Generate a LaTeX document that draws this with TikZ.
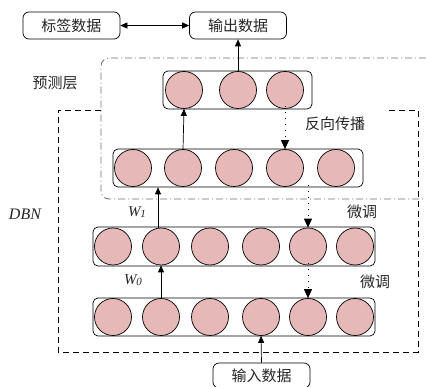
\documentclass[tikz,border=0pt]{standalone}
\usepackage{fontspec}
\setmainfont{Liberation Serif}
\newfontfamily\cjk{Noto Sans CJK SC}
\usetikzlibrary{arrows.meta}
\definecolor{neuron}{HTML}{E6B8B7}
\definecolor{dashgray}{HTML}{6E6E6E}
\begin{document}
\begin{tikzpicture}[x=1pt,y=-1pt,
 circ/.style={circle,draw=black,line width=0.7pt,fill=neuron,minimum size=37pt,inner sep=0pt},
 rowbox/.style={draw=black,line width=0.7pt,rounded corners=5pt,inner sep=0pt},
 databox/.style={draw=black,line width=0.7pt,rounded corners=6pt,minimum width=97pt,minimum height=27pt,inner sep=0pt,font=\cjk\fontsize{15}{15}\selectfont,text=black!85},
 lbl/.style={font=\cjk\fontsize{15}{15}\selectfont,text=black!85,inner sep=0pt},
 wlbl/.style={font=\itshape\fontsize{15}{15}\selectfont,text=black!85,inner sep=0pt},
 up/.style={-{Triangle[length=7pt,width=6pt]},line width=0.7pt},
 bp/.style={-{Triangle[length=9pt,width=8pt]},line width=0.8pt,dash pattern=on 1pt off 5pt},
 dashdotline/.style={draw=dashgray,line width=0.8pt,dash pattern=on 7pt off 3pt on 1pt off 3pt},
 dashline/.style={draw=black,line width=0.8pt,dash pattern=on 6pt off 4pt},
]
\useasboundingbox (0,0) rectangle (426,387);

% frames
\draw[dashdotline,rounded corners=8pt] (426,58) -- (101,58) -- (101,199) -- (426,199);
\draw[dashline] (101,110) -- (58,110) -- (58,352) -- (418,352) -- (418,110) -- (386,110);

% rows
\node[rowbox,minimum width=149pt,minimum height=38pt] (r1) at (237.5,90) {};
\foreach \x [count=\i] in {184,238,285} \node[circ] (r1c\i) at (\x,90) {};
\node[rowbox,minimum width=250pt,minimum height=38pt] (r2) at (238,168) {};
\foreach \x [count=\i] in {133,183,234,285,336} \node[circ] (r2c\i) at (\x,168) {};
\node[rowbox,minimum width=282pt,minimum height=39pt] (r3) at (234,246.5) {};
\foreach \x [count=\i] in {113,161,210,261,308,355} \node[circ] (r3c\i) at (\x,246.5) {};
\node[rowbox,minimum width=282pt,minimum height=38pt] (r4) at (234,317) {};
\foreach \x [count=\i] in {113,161,210,261,308,355} \node[circ] (r4c\i) at (\x,317) {};

% data boxes
\node[databox] (label) at (71.5,25.5) {标签数据};
\node[databox] (out) at (238,25.5) {输出数据};
\node[databox,minimum height=25pt] (in) at (261.5,375.5) {输入数据};

% arrows
\draw[{Triangle[length=7pt,width=6pt]}-{Triangle[length=7pt,width=6pt]},line width=0.7pt] (label.east) -- (out.west);
\draw[up] (in.north) -- (r4c4.south);
\draw[up] (r4c2.north) -- (r3c2.south);
\draw[up] (r3c2.north) ++(-3,0) coordinate (w1s) -- (w1s |- r2.south);
\draw[up] (r2c2.north) -- (r1c1.south);
\draw[up] (r1c2.north) -- (out.south);

% back propagation
\coordinate (bp1) at ([yshift=3pt]r1.south -| r2c4);
\draw[bp] (bp1) -- (r2c4.north);
\coordinate (bp2) at ([yshift=2pt]r2.south -| r3c5);
\draw[bp] (bp2) -- (r3c5.north);
\coordinate (bp3) at ([yshift=3pt]r3.south -| r4c5);
\draw[bp] (bp3) -- (r4c5.north);

% labels
\node[lbl] (lpred) at (55,83) {预测层};
\node[lbl] (lbp) at (335,124) {反向传播};
\node[lbl] (lft1) at (362,212) {微调};
\node[lbl] (lft2) at (375,282) {微调};
\node[wlbl,font=\itshape\fontsize{16}{16}\selectfont] (ldbn) at (25,214) {DBN};
\node[wlbl] (lw1) at (137,212) {W\raisebox{-1.5pt}{\fontsize{11}{11}\selectfont 1}};
\node[wlbl] (lw0) at (133,280) {W\raisebox{-1.5pt}{\fontsize{11}{11}\selectfont 0}};
\end{tikzpicture}
\end{document}
